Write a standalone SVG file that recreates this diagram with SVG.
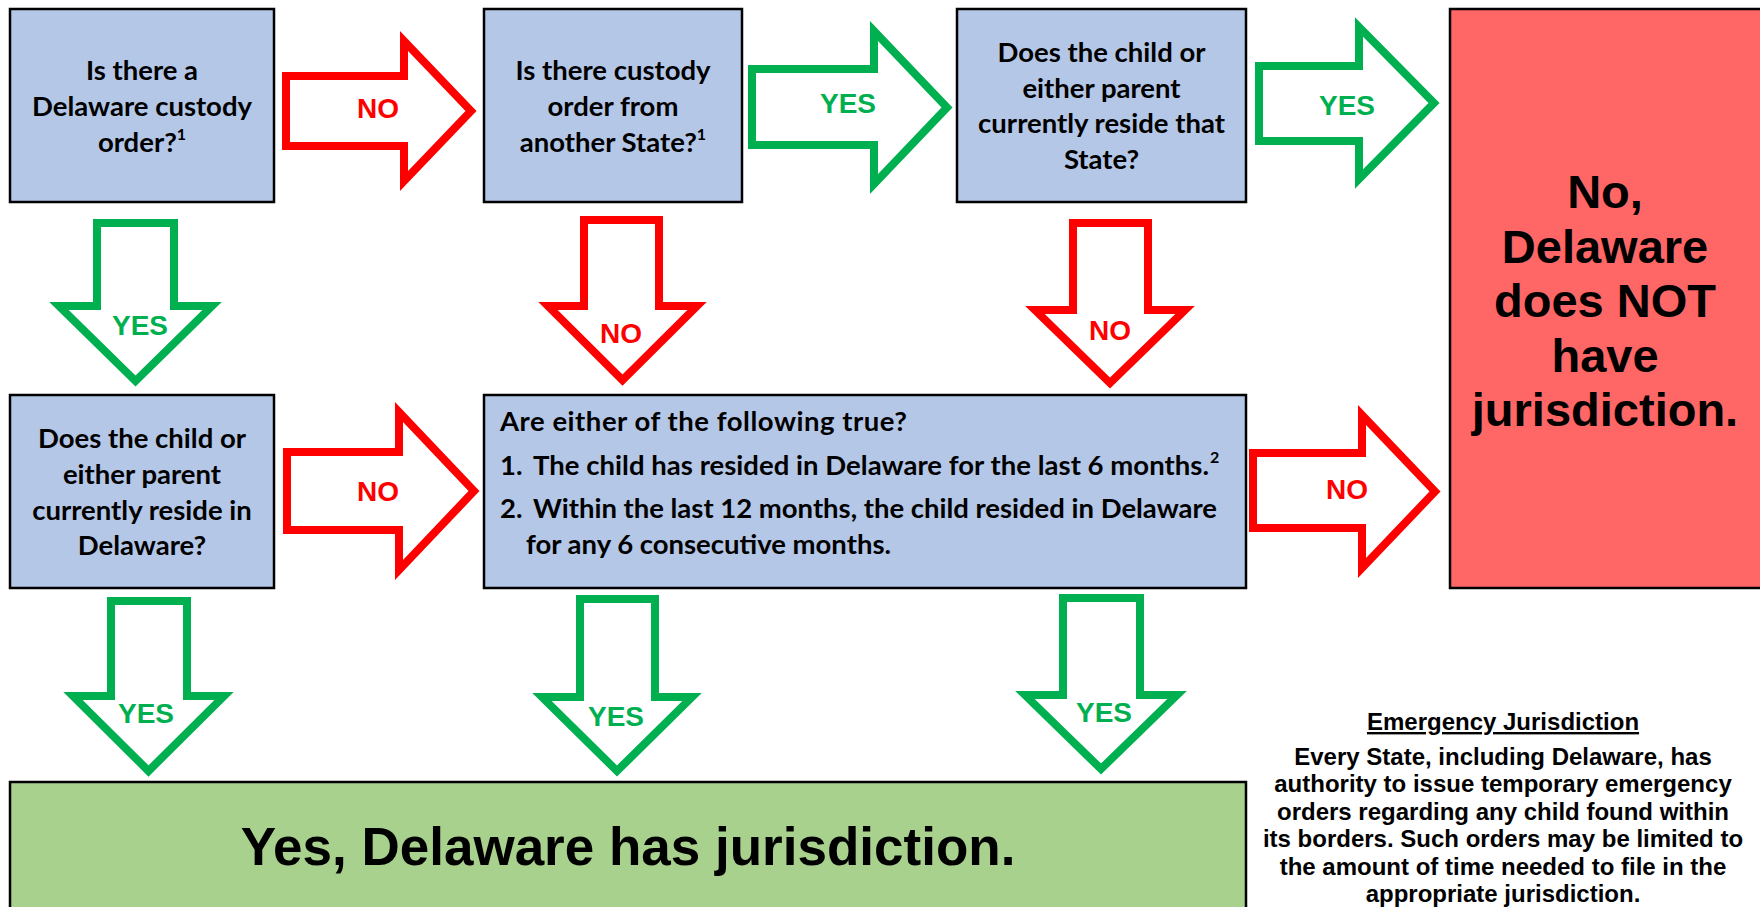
<svg xmlns="http://www.w3.org/2000/svg" width="1760" height="907" viewBox="0 0 1760 907">
<style>
.q{fill:#B4C7E7;stroke:#000;stroke-width:2.5}
.qt{font-family:Lato,"Liberation Sans",sans-serif;font-weight:700;font-size:27.5px;fill:#000}
.sup{font-size:16px}
.ar{fill:#fff;stroke-width:8;stroke-linejoin:miter;stroke-miterlimit:10}
.red{stroke:#FF0000}
.grn{stroke:#00B050}
.lbl{font-family:"Liberation Sans",Arial,sans-serif;font-weight:700;font-size:28px;text-anchor:middle}
.lr{fill:#FF0000}
.lg{fill:#00B050}
.big{font-family:"Liberation Sans",Arial,sans-serif;font-weight:700;fill:#000;text-anchor:middle}
.em{font-family:"Liberation Sans",Arial,sans-serif;font-weight:700;font-size:24px;fill:#000;text-anchor:middle}
</style>
<rect width="1760" height="907" fill="#fff"/>
<g id="connectors">
 <g id="r1"><path class="ar red" d="M286,76 H404 V41 L471,111 L404,181 V146 H286 Z"/><text class="lbl lr" x="378" y="118">NO</text></g>
 <g id="r2"><path class="ar grn" d="M752,69 H874 V31 L947,107.5 L874,184 V145 H752 Z"/><text class="lbl lg" x="848" y="113">YES</text></g>
 <g id="r3"><path class="ar grn" d="M1259,66 H1359 V27 L1434,103 L1359,179 V141 H1259 Z"/><text class="lbl lg" x="1347" y="115">YES</text></g>
 <g id="r4"><path class="ar red" d="M287,452 H399 V412 L474,491 L399,570 V530 H287 Z"/><text class="lbl lr" x="378" y="501">NO</text></g>
 <g id="r5"><path class="ar red" d="M1253,453 H1362 V415 L1435,491.5 L1362,568 V528 H1253 Z"/><text class="lbl lr" x="1347" y="499">NO</text></g>
 <g id="d1"><path class="ar grn" d="M97,223 H174 V306 H212 L135.5,381 L59,306 H97 Z"/><text class="lbl lg" x="140" y="335">YES</text></g>
 <g id="d2"><path class="ar red" d="M584,220 H659 V306 H697 L622.5,380 L548,306 H584 Z"/><text class="lbl lr" x="621" y="343">NO</text></g>
 <g id="d3"><path class="ar red" d="M1073,223 H1148 V310 H1185 L1110,383 L1035,310 H1073 Z"/><text class="lbl lr" x="1110" y="340">NO</text></g>
 <g id="d4"><path class="ar grn" d="M111,601 H187 V696 H224 L148.5,771 L73,696 H111 Z"/><text class="lbl lg" x="146" y="723">YES</text></g>
 <g id="d5"><path class="ar grn" d="M580,599 H655 V697 H692 L617,771 L542,697 H580 Z"/><text class="lbl lg" x="616" y="726">YES</text></g>
 <g id="d6"><path class="ar grn" d="M1063,598 H1140 V695 H1177 L1101,769 L1025,695 H1063 Z"/><text class="lbl lg" x="1104" y="722">YES</text></g>
</g>
<g id="q1">
 <rect class="q" x="10" y="9" width="264" height="193"/>
 <text class="qt" text-anchor="middle"><tspan x="142" y="80">Is there a</tspan><tspan x="142" y="116">Delaware custody</tspan><tspan x="142" y="152">order?<tspan class="sup" dy="-12">1</tspan></tspan></text>
</g>
<g id="q2">
 <rect class="q" x="484" y="9" width="258" height="193"/>
 <text class="qt" text-anchor="middle"><tspan x="613" y="80">Is there custody</tspan><tspan x="613" y="116">order from</tspan><tspan x="613" y="152">another State?<tspan class="sup" dy="-12">1</tspan></tspan></text>
</g>
<g id="q3">
 <rect class="q" x="957" y="9" width="289" height="193"/>
 <text class="qt" text-anchor="middle"><tspan x="1101.5" y="62">Does the child or</tspan><tspan x="1101.5" y="98">either parent</tspan><tspan x="1101.5" y="133">currently reside that</tspan><tspan x="1101.5" y="169">State?</tspan></text>
</g>
<g id="q4">
 <rect class="q" x="10" y="395" width="264" height="193"/>
 <text class="qt" text-anchor="middle"><tspan x="142" y="448">Does the child or</tspan><tspan x="142" y="484">either parent</tspan><tspan x="142" y="520">currently reside in</tspan><tspan x="142" y="555">Delaware?</tspan></text>
</g>
<g id="q5">
 <rect class="q" x="484" y="395" width="762" height="193"/>
 <text class="qt" x="500" y="431" textLength="407">Are either of the following true?</text>
 <text class="qt" x="500" y="475">1.</text>
 <text class="qt" x="533" y="475" textLength="676">The child has resided in Delaware for the last 6 months.</text>
 <text class="qt sup" x="1210" y="463">2</text>
 <text class="qt" x="500" y="518">2.</text>
 <text class="qt" x="533" y="518" textLength="684">Within the last 12 months, the child resided in Delaware</text>
 <text class="qt" x="526" y="554" textLength="365">for any 6 consecutive months.</text>
</g>
<g id="no">
 <rect x="1450" y="9" width="312" height="579" fill="#FF6666" stroke="#000" stroke-width="2.5"/>
 <text class="big" font-size="47"><tspan x="1605" y="208">No,</tspan><tspan x="1605" y="262.5">Delaware</tspan><tspan x="1605" y="317">does NOT</tspan><tspan x="1605" y="371.5">have</tspan><tspan x="1605" y="426">jurisdiction.</tspan></text>
</g>
<g id="yes">
 <rect x="10" y="782" width="1236" height="130" fill="#A9D18E" stroke="#000" stroke-width="2.5"/>
 <text class="big" font-size="53" x="628" y="865">Yes, Delaware has jurisdiction.</text>
</g>
<g id="emergency">
 <text class="em" x="1503" y="730" text-decoration="underline">Emergency Jurisdiction</text>
 <text class="em"><tspan x="1503" y="765">Every State, including Delaware, has</tspan><tspan x="1503" y="792">authority to issue temporary emergency</tspan><tspan x="1503" y="820">orders regarding any child found within</tspan><tspan x="1503" y="847">its borders. Such orders may be limited to</tspan><tspan x="1503" y="875">the amount of time needed to file in the</tspan><tspan x="1503" y="902">appropriate jurisdiction.</tspan></text>
</g>
</svg>
